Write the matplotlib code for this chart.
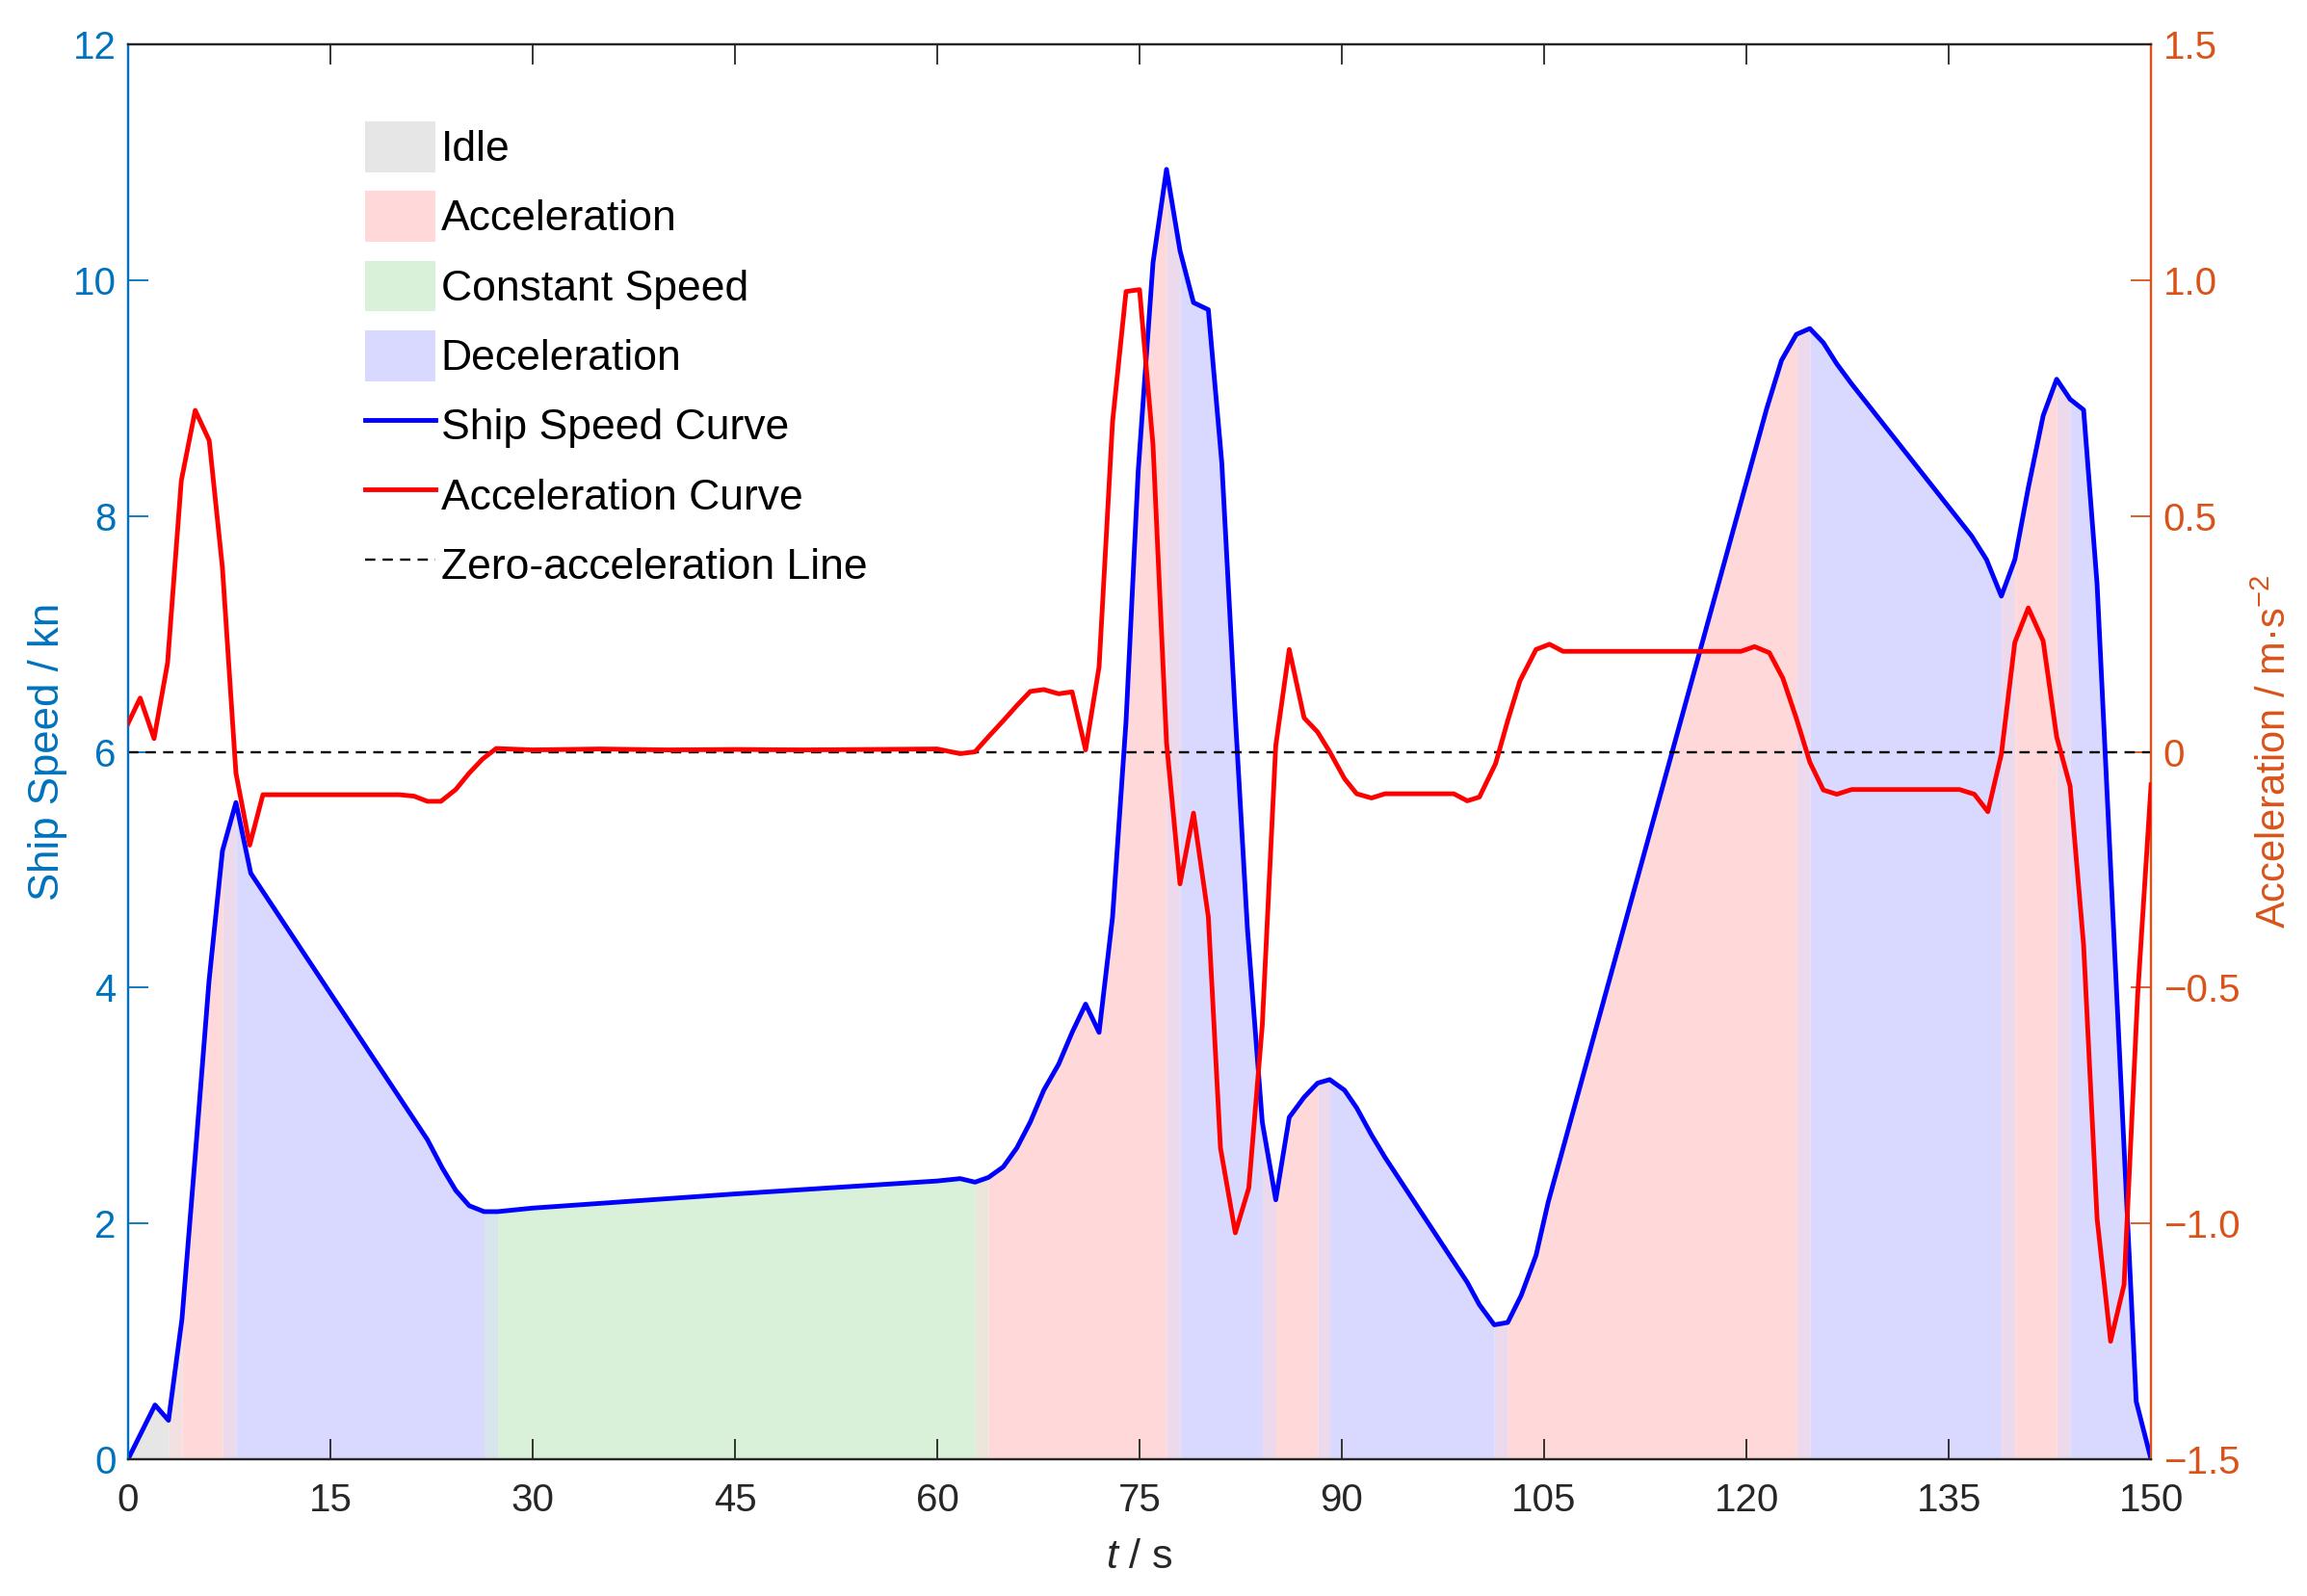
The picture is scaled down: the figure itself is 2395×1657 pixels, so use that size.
import numpy as np
import matplotlib
matplotlib.use("Agg")
import matplotlib.pyplot as plt
from matplotlib.patches import Patch
from matplotlib.lines import Line2D

plt.rcParams['font.family'] = ['Liberation Sans', 'DejaVu Sans']
plt.rcParams['mathtext.fontset'] = 'custom'
plt.rcParams['mathtext.rm'] = 'Liberation Sans'
plt.rcParams['mathtext.it'] = 'Liberation Sans:italic'

# ---------------- data ----------------
t_speed = [0, 2, 3, 4, 5, 6, 7, 8, 9.1, 22.2, 23.3, 24.3, 25.3, 26.4, 27.4, 30, 45, 60,
           61.7, 62.8, 63.8, 64.9, 65.9, 66.9, 67.9, 69.0, 70.0, 71.0, 72.0, 73.0, 74.0,
           74.9, 76.0, 77.0, 78.0, 79.0, 80.1, 81.1, 82.1, 83.0, 84.1, 85.1, 86.1, 87.2,
           88.2, 89.1, 90.2, 91.1, 92.2, 93.2, 99.3, 100.2, 101.3, 102.3, 103.3, 104.4,
           105.3, 121.5, 122.6, 123.7, 124.7, 125.7, 126.7, 127.8, 136.7, 137.8, 138.9,
           139.9, 140.9, 142.0, 143.0, 144.0, 145.0, 146.0, 147.0, 148.0, 148.9, 150]
speed_kn = [0, 0.46, 0.33, 1.19, 2.6, 4.05, 5.16, 5.57, 4.97, 2.71, 2.47, 2.28, 2.15, 2.10,
            2.10, 2.13, 2.25, 2.36, 2.38, 2.35, 2.39, 2.48, 2.64, 2.86, 3.13, 3.35, 3.62,
            3.86, 3.62, 4.6, 6.26, 8.38, 10.15, 10.94, 10.25, 9.81, 9.75, 8.45, 6.3, 4.5,
            2.86, 2.2, 2.9, 3.07, 3.19, 3.22, 3.13, 2.98, 2.75, 2.56, 1.5, 1.31, 1.14, 1.16,
            1.39, 1.73, 2.18, 8.91, 9.32, 9.54, 9.59, 9.47, 9.29, 9.12, 7.83, 7.63, 7.32,
            7.63, 8.24, 8.85, 9.16, 8.99, 8.90, 7.42, 5.03, 2.64, 0.49, 0]

t_acc = [0, 0.9, 1.93, 2.93, 3.95, 4.98, 6.02, 7.0, 8.0, 9.02, 10.0, 20.1, 21.2, 22.2, 23.2,
         24.3, 25.3, 26.3, 27.3, 30, 35, 40, 45, 50, 55, 60, 61.7, 62.8, 63.8, 64.9, 65.9,
         66.9, 67.9, 69.0, 70.0, 71.0, 72.0, 73.0, 74.0, 75.0, 76.0, 77.0, 78.0, 79.0, 80.1,
         81.0, 82.1, 83.1, 84.1, 85.1, 86.1, 87.2, 88.2, 89.1, 90.2, 91.1, 92.2, 93.2, 98.3,
         99.3, 100.2, 101.4, 102.3, 103.2, 104.4, 105.4, 106.4, 119.6, 120.6, 121.7, 122.7,
         123.7, 124.7, 125.7, 126.7, 127.8, 135.8, 136.9, 137.9, 138.9, 139.9, 140.9, 142.0,
         143.0, 144.0, 145.0, 146.0, 147.0, 148.0, 149.0, 150.0]
acc_ms2 = [0.06, 0.114, 0.028, 0.188, 0.575, 0.724, 0.66, 0.39, -0.045, -0.198, -0.091,
           -0.091, -0.094, -0.105, -0.105, -0.08, -0.045, -0.015, 0.007, 0.004, 0.006, 0.004,
           0.005, 0.004, 0.005, 0.006, -0.004, 0.0, 0.032, 0.066, 0.098, 0.128, 0.132, 0.123,
           0.127, 0.004, 0.18, 0.70, 0.976, 0.98, 0.65, 0.02, -0.28, -0.13, -0.35, -0.84,
           -1.02, -0.925, -0.58, 0.013, 0.217, 0.072, 0.042, 0.0, -0.057, -0.089, -0.098,
           -0.089, -0.089, -0.104, -0.096, -0.025, 0.066, 0.15, 0.217, 0.228, 0.213, 0.213,
           0.223, 0.21, 0.156, 0.071, -0.022, -0.081, -0.09, -0.08, -0.08, -0.09, -0.127,
           -0.005, 0.232, 0.305, 0.235, 0.032, -0.073, -0.41, -0.99, -1.25, -1.13, -0.52,
           -0.07]

# driving phases (start, end, phase); gaps between segments are transitions
phase_start = [0, 4.0, 8.0, 27.4, 63.8, 78.0, 85.1, 89.1, 102.3, 124.7, 139.9, 144.0]
phase_end   = [3.0, 7.0, 26.4, 62.8, 77.0, 84.1, 88.2, 101.3, 123.7, 138.9, 143.0, 150.0]
phase_kind  = ['Idle', 'Acceleration', 'Deceleration', 'Constant Speed', 'Acceleration',
               'Deceleration', 'Acceleration', 'Deceleration', 'Acceleration',
               'Deceleration', 'Acceleration', 'Deceleration']
phase_names = ['Idle', 'Acceleration', 'Constant Speed', 'Deceleration']

x_ticks = [0, 15, 30, 45, 60, 75, 90, 105, 120, 135, 150]
left_ticks = [0, 2, 4, 6, 8, 10, 12]
right_ticks = [-1.5, -1.0, -0.5, 0, 0.5, 1.0, 1.5]
right_labels = ['\u22121.5', '\u22121.0', '\u22120.5', '0', '0.5', '1.0', '1.5']

# ---------------- style ----------------
phase_color = {'Idle': np.array([0.902, 0.902, 0.902]),
               'Acceleration': np.array([1.0, 0.851, 0.851]),
               'Constant Speed': np.array([0.851, 0.945, 0.851]),
               'Deceleration': np.array([0.851, 0.851, 1.0])}
c_left = '#0072BD'
c_right = '#D95319'
c_axis = '#262626'
LW = 3.5

fig = plt.figure(figsize=(23.95, 16.57), dpi=100)
ax = fig.add_axes([0.0555, 0.0857, 0.8769, 0.8865])
ax2 = ax.twinx()

ts = np.array(t_speed, dtype=float)
vs = np.array(speed_kn, dtype=float)


def fill_under(a, b, color):
    inner = ts[(ts > a) & (ts < b)]
    tt = np.concatenate([[a], inner, [b]])
    vv = np.interp(tt, ts, vs)
    ax.fill_between(tt, 0, vv, color=color, lw=0, zorder=1)


for i in range(len(phase_start)):
    fill_under(phase_start[i], phase_end[i], phase_color[phase_kind[i]])
    if i + 1 < len(phase_start):
        mix = 0.5 * (phase_color[phase_kind[i]] + phase_color[phase_kind[i + 1]])
        fill_under(phase_end[i], phase_start[i + 1], mix)

ax.plot(t_speed, speed_kn, color='#0000FF', lw=LW, zorder=3)
ax2.axhline(0, color='black', lw=1.7, ls=(0, (4.5, 3.2)), zorder=2)
ax2.plot(t_acc, acc_ms2, color='#FF0000', lw=LW, zorder=4)

ax.set_xlim(0, 150)
ax.set_ylim(0, 12)
ax2.set_ylim(-1.5, 1.5)
ax.set_xticks(x_ticks)
ax.set_yticks(left_ticks)
ax2.set_yticks(right_ticks)
ax2.set_yticklabels(right_labels)

ax.tick_params(axis='x', direction='in', length=15, width=1.3, top=True, colors=c_axis,
               labelsize=29, pad=17)
ax.tick_params(axis='y', direction='in', length=15, width=1.3, colors=c_left,
               labelsize=29, pad=9)
ax2.tick_params(axis='y', direction='in', length=15, width=1.3, colors=c_right,
                labelsize=29, pad=9)

for a in (ax, ax2):
    a.spines['left'].set_color(c_left)
    a.spines['right'].set_color(c_right)
    a.spines['top'].set_color(c_axis)
    a.spines['bottom'].set_color(c_axis)
    for s in a.spines.values():
        s.set_linewidth(1.6)

ax.set_xlabel('$t$ / s', fontsize=31, color=c_axis, labelpad=15)
ax.set_ylabel('Ship Speed / kn', fontsize=31.5, color=c_left, labelpad=4)
ax2.set_ylabel('Acceleration / m\u00b7s$^{-2}$', fontsize=30, color=c_right, labelpad=12)

handles = [Patch(facecolor=phase_color[n], edgecolor='none') for n in phase_names]
handles += [Line2D([], [], color='#0000FF', lw=LW),
            Line2D([], [], color='#FF0000', lw=LW),
            Line2D([], [], color='black', lw=1.7, ls=(0, (4.5, 3.2)))]
labels = phase_names + ['Ship Speed Curve', 'Acceleration Curve', 'Zero-acceleration Line']
leg = ax2.legend(handles, labels, loc='upper left', bbox_to_anchor=(379 / 2395, 1 - 126 / 1657),
                 bbox_transform=fig.transFigure, frameon=False, fontsize=32,
                 borderpad=0, borderaxespad=0, handlelength=1.65, handleheight=1.45,
                 handletextpad=0.12, labelspacing=0.44)

fig.savefig('out.png', dpi=100)
